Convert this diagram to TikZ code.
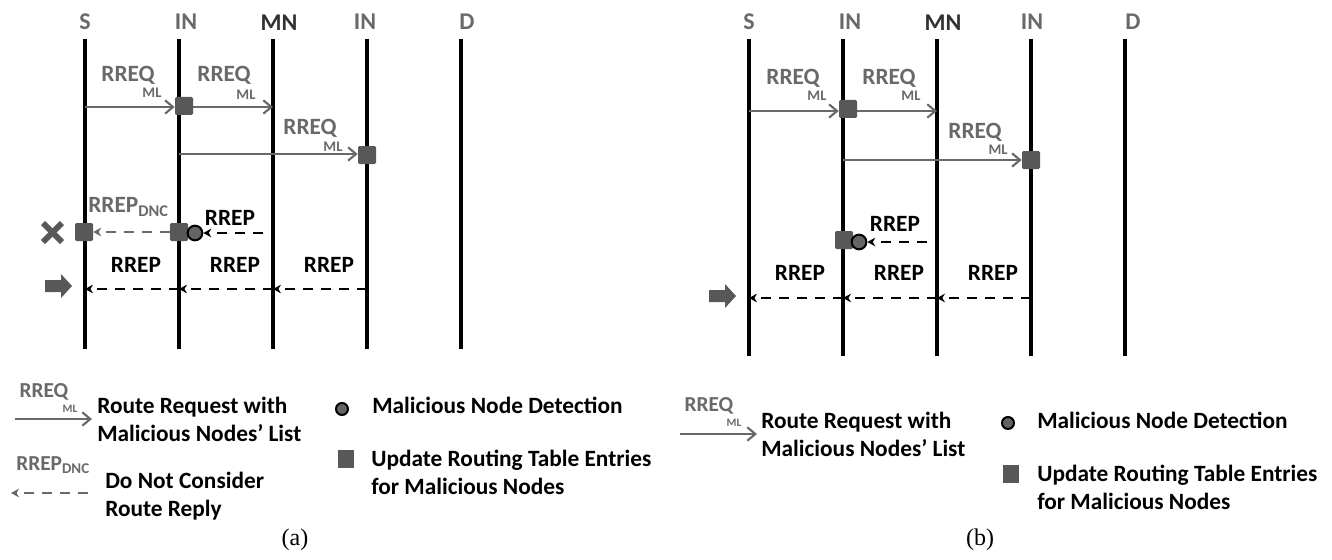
\documentclass[tikz,border=0pt]{standalone}
\usepackage{fontspec}
\setmainfont{Carlito}
\newfontfamily\capfont{Liberation Serif}
\usetikzlibrary{arrows.meta}
\definecolor{msggray}{RGB}{105,105,105}
\definecolor{mngray}{RGB}{50,50,50}
\definecolor{boxgray}{RGB}{88,88,88}
\definecolor{dotgray}{RGB}{100,100,100}

\begin{document}
\begin{tikzpicture}[x=0.75pt,y=0.75pt,yscale=-1,xscale=1,
  lifeline/.style={line width=3pt},
  reqarrow/.style={msggray,line width=1.9pt,-{Straight Barb[length=6pt,width=10pt,line width=1.6pt]}},
  reparrow/.style={black,line width=1.9pt,dash pattern=on 7.5pt off 6pt,-{Stealth[length=6pt,width=6.5pt]}},
  dncarrow/.style={msggray,line width=1.9pt,dash pattern=on 7.5pt off 6pt,-{Stealth[length=6pt,width=6.5pt]}},
  updbox/.style={fill=boxgray,rounded corners=1pt,minimum size=13.5pt,inner sep=0pt},
  detdot/.style={circle,draw=black,line width=1.5pt,fill=dotgray,minimum size=11pt,inner sep=0pt},
  hdr/.style={msggray,font=\bfseries\fontsize{18}{20}\selectfont},
  reqlbl/.style={msggray,font=\bfseries\fontsize{17.5}{19}\selectfont},
  mllbl/.style={msggray,font=\bfseries\fontsize{11}{13}\selectfont},
  replbl/.style={black,font=\bfseries\fontsize{17.5}{19}\selectfont},
  keytxt/.style={anchor=west,align=left,inner sep=0pt,font=\bfseries\fontsize{17.5}{21}\selectfont},
  keyreq/.style={msggray,font=\bfseries\fontsize{16}{18}\selectfont},
  keyml/.style={msggray,font=\bfseries\fontsize{8.5}{10}\selectfont},
  keybox/.style={fill=boxgray,minimum width=12.5pt,minimum height=13.5pt,inner sep=0pt},
  pointer/.style={fill=boxgray},
  cross/.style={boxgray,line width=4.5pt},
  caption/.style={font=\capfont\fontsize{18}{20}\selectfont},
]
\useasboundingbox (0,0) rectangle (1332,560);

%%%%%%%%%%%%%%%%%%%% (a)
\coordinate (aS-t) at (85,39);   \coordinate (aS-b) at (85,349);
\coordinate (aI1-t) at (179,39); \coordinate (aI1-b) at (179,349);
\coordinate (aMN-t) at (273,39); \coordinate (aMN-b) at (273,349);
\coordinate (aI2-t) at (367,39); \coordinate (aI2-b) at (367,349);
\coordinate (aD-t) at (461,39);  \coordinate (aD-b) at (461,349);
\draw[lifeline] (aS-t) -- (aS-b);
\draw[lifeline] (aI1-t) -- (aI1-b);
\draw[lifeline] (aMN-t) -- (aMN-b);
\draw[lifeline] (aI2-t) -- (aI2-b);
\draw[lifeline] (aD-t) -- (aD-b);

\node[hdr] (aS) at (85,22) {S};
\node[hdr] (aI1) at (186,22) {IN};
\node[hdr,text=mngray] (aMN) at (279,23) {MN};
\node[hdr] (aI2) at (365,22) {IN};
\node[hdr] (aD) at (467,22) {D};

% route requests
\coordinate (aR1) at (85,107);
\coordinate (aR2) at (273,107);
\coordinate (aR3) at (179,154);
\node[updbox] (aU1) at (184,106) {};
\node[updbox] (aU2) at (367,155) {};
\draw[reqarrow] (aR1) -- (aU1.west |- aR1);
\draw[reqarrow] (aU1.east |- aR2) -- (aR2);
\draw[reqarrow] (aR3) -- (aU2.west |- aR3);
\node[reqlbl] (aQ1) at (128,75) {RREQ};
\node[mllbl] (aM1) at (152,93) {ML};
\node[reqlbl] (aQ2) at (224,75) {RREQ};
\node[mllbl] (aM2) at (246,95) {ML};
\node[reqlbl] (aQ3) at (310,128) {RREQ};
\node[mllbl] (aM3) at (333,147) {ML};

% detection
\coordinate (aP1) at (263,233);
\node[updbox] (aU3) at (84,232) {};
\node[updbox] (aU4) at (179,232) {};
\node[detdot] (aC1) at (195,233) {};
\draw[dncarrow] (aU4.west) -- (aU3.east);
\draw[reparrow] (aP1) -- (aC1.east);
\node[msggray,anchor=west,inner sep=0pt,font=\bfseries\fontsize{17.5}{19}\selectfont] (aDNC) at (88,207) {RREP\textsubscript{DNC}};
\node[replbl] (aP) at (230,218) {RREP};
\draw[cross] (43,223) -- (62,242);
\draw[cross] (43,242) -- (62,223);

% route replies
\coordinate (aB1) at (367,289);
\coordinate (aB2) at (273,289);
\coordinate (aB3) at (179,289);
\coordinate (aB4) at (85,289);
\draw[reparrow] (aB1) -- (aB2);
\draw[reparrow] (aB2) -- (aB3);
\draw[reparrow] (aB3) -- (aB4);
\node[replbl] (aL1) at (136,265) {RREP};
\node[replbl] (aL2) at (235,265) {RREP};
\node[replbl] (aL3) at (329,265) {RREP};
\fill[pointer] (45,280) -- (61,280) -- (61,274) -- (72,286) -- (61,298) -- (61,292) -- (45,292) -- cycle;

% key
\node[keyreq] (kaQ) at (44,392) {RREQ};
\node[keyml] (kaM) at (70,409) {ML};
\coordinate (kaA1) at (15,419);
\coordinate (kaA2) at (92,419);
\draw[reqarrow,line width=1.5pt] (kaA1) -- (kaA2);
\node[keytxt] (kaT1) at (97,419) {Route Request with\\Malicious Nodes’ List};
\node[msggray,anchor=west,inner sep=0pt,font=\bfseries\fontsize{16}{18}\selectfont] (kaD) at (16,465) {RREP\textsubscript{DNC}};
\coordinate (kaB1) at (88,493);
\coordinate (kaB2) at (11,493);
\draw[dncarrow,line width=1.6pt] (kaB1) -- (kaB2);
\node[keytxt] (kaT2) at (105,496) {Do Not Consider\\Route Reply};
\node[detdot,minimum size=9pt] (kaC) at (342,409) {};
\node[keytxt] (kaT3) at (372,405) {Malicious Node Detection};
\node[keybox] (kaU) at (346,459) {};
\node[keytxt] (kaT4) at (371,472) {Update Routing Table Entries\\for Malicious Nodes};
\node[caption] (capA) at (295,540) {(a)};

%%%%%%%%%%%%%%%%%%%% (b)
\coordinate (bS-t) at (749,39);   \coordinate (bS-b) at (749,356);
\coordinate (bI1-t) at (843,39);  \coordinate (bI1-b) at (843,356);
\coordinate (bMN-t) at (937,39);  \coordinate (bMN-b) at (937,356);
\coordinate (bI2-t) at (1031,39); \coordinate (bI2-b) at (1031,356);
\coordinate (bD-t) at (1125,39);  \coordinate (bD-b) at (1125,356);
\draw[lifeline] (bS-t) -- (bS-b);
\draw[lifeline] (bI1-t) -- (bI1-b);
\draw[lifeline] (bMN-t) -- (bMN-b);
\draw[lifeline] (bI2-t) -- (bI2-b);
\draw[lifeline] (bD-t) -- (bD-b);

\node[hdr] (bS) at (749,22) {S};
\node[hdr] (bI1) at (850,22) {IN};
\node[hdr,text=mngray] (bMN) at (943,23) {MN};
\node[hdr] (bI2) at (1032,22) {IN};
\node[hdr] (bD) at (1133,22) {D};

% route requests
\coordinate (bR1) at (749,111);
\coordinate (bR2) at (937,111);
\coordinate (bR3) at (843,160);
\node[updbox] (bU1) at (848,109) {};
\node[updbox] (bU2) at (1031,160) {};
\draw[reqarrow] (bR1) -- (bU1.west |- bR1);
\draw[reqarrow] (bU1.east |- bR2) -- (bR2);
\draw[reqarrow] (bR3) -- (bU2.west |- bR3);
\node[reqlbl] (bQ1) at (793,78) {RREQ};
\node[mllbl] (bM1) at (817,96) {ML};
\node[reqlbl] (bQ2) at (889,78) {RREQ};
\node[mllbl] (bM2) at (911,96) {ML};
\node[reqlbl] (bQ3) at (975,132) {RREQ};
\node[mllbl] (bM3) at (998,150) {ML};

% detection
\coordinate (bP1) at (927,242);
\node[updbox] (bU3) at (844,240) {};
\node[detdot] (bC1) at (859,242) {};
\draw[reparrow] (bP1) -- (bC1.east);
\node[replbl] (bP) at (895,224) {RREP};

% route replies
\coordinate (bB1) at (1031,298);
\coordinate (bB2) at (937,298);
\coordinate (bB3) at (843,298);
\coordinate (bB4) at (749,298);
\draw[reparrow] (bB1) -- (bB2);
\draw[reparrow] (bB2) -- (bB3);
\draw[reparrow] (bB3) -- (bB4);
\node[replbl] (bL1) at (800,273) {RREP};
\node[replbl] (bL2) at (899,273) {RREP};
\node[replbl] (bL3) at (993,273) {RREP};
\fill[pointer] (709,290) -- (725,290) -- (725,284) -- (736,296) -- (725,308) -- (725,302) -- (709,302) -- cycle;

% key
\node[keyreq] (kbQ) at (709,406) {RREQ};
\node[keyml] (kbM) at (734,423) {ML};
\coordinate (kbA1) at (680,434);
\coordinate (kbA2) at (757,434);
\draw[reqarrow,line width=1.5pt] (kbA1) -- (kbA2);
\node[keytxt] (kbT1) at (761,434) {Route Request with\\Malicious Nodes’ List};
\node[detdot,minimum size=9pt] (kbC) at (1008,423) {};
\node[keytxt] (kbT3) at (1037,420) {Malicious Node Detection};
\node[keybox] (kbU) at (1011,474) {};
\node[keytxt] (kbT4) at (1037,487) {Update Routing Table Entries\\for Malicious Nodes};
\node[caption] (capB) at (980,540) {(b)};

\end{tikzpicture}
\end{document}
